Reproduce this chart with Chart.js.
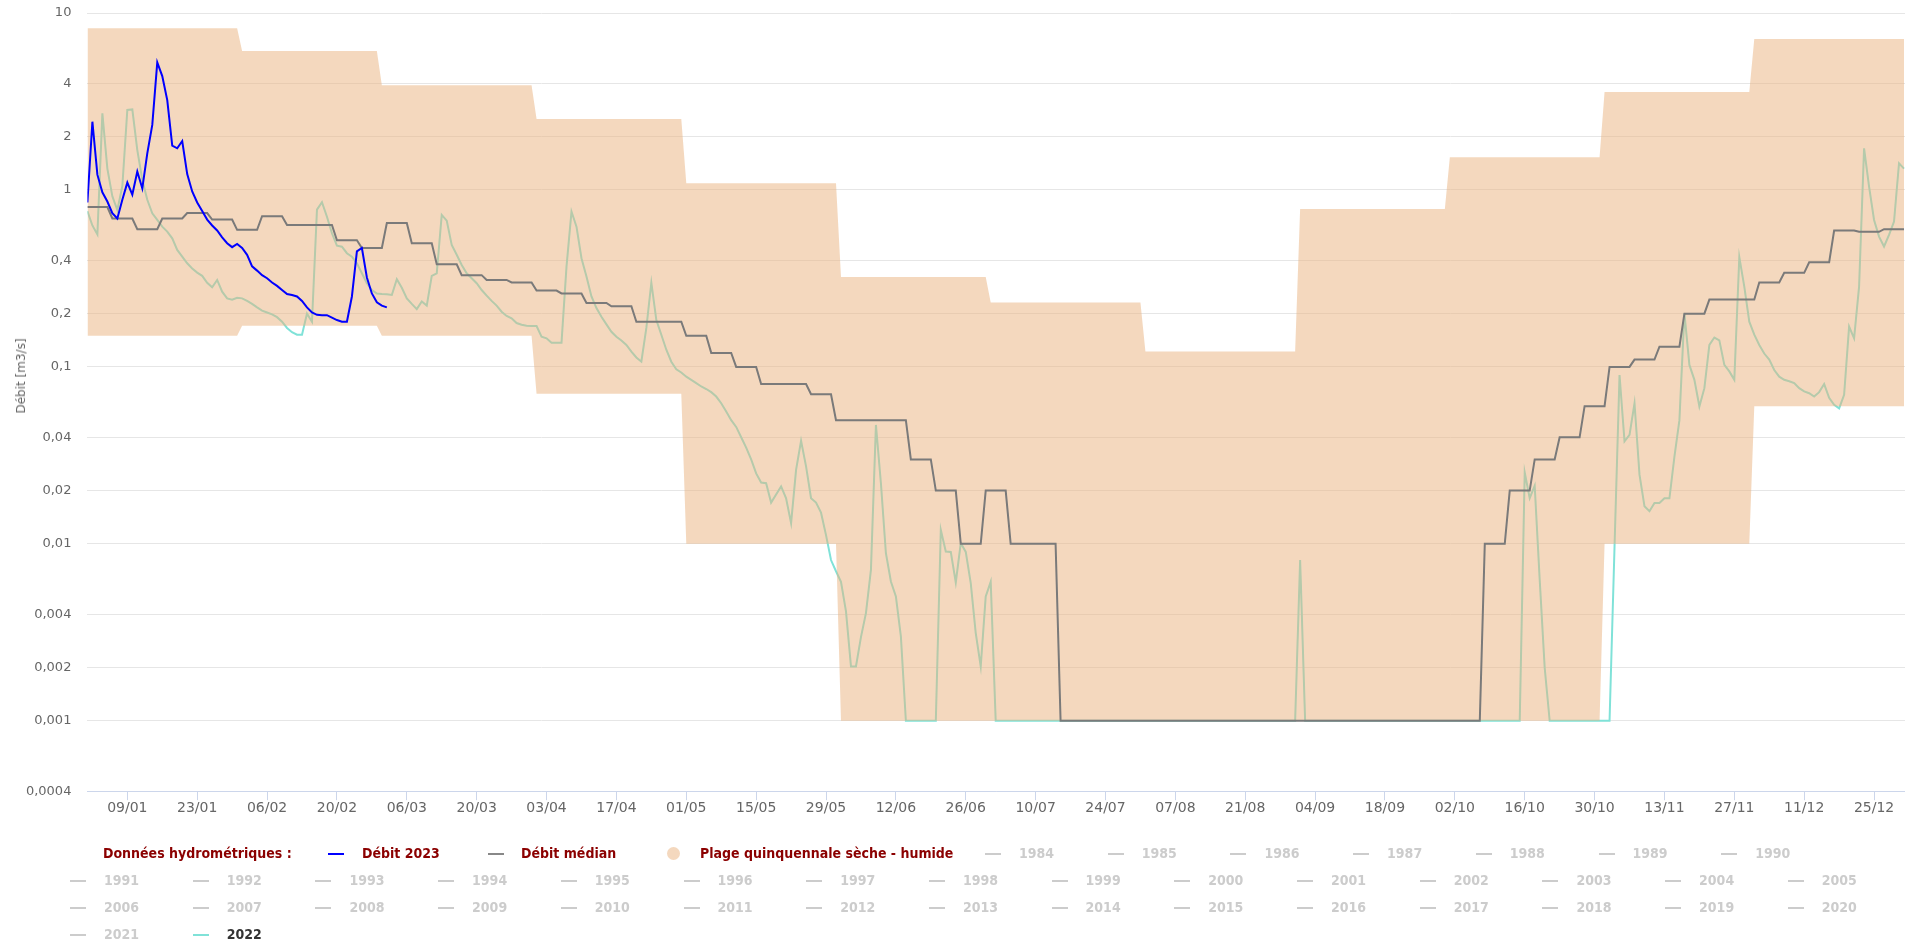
<!DOCTYPE html>
<html lang="fr">
<head>
<meta charset="utf-8">
<title>Débit</title>
<script src="https://cdn.jsdelivr.net/npm/chart.js@4.4.1/dist/chart.umd.min.js"></script>
<style>
  html, body { margin: 0; padding: 0; background: #fff; overflow: hidden; }
  #wrap { position: relative; width: 1905px; height: 943px; }
  #chart { position: absolute; left: 0; top: 0; }
  #ytitle {
    position: absolute; left: 21px; top: 376px;
    transform: translate(-50%, -50%) rotate(-90deg);
    font: 12px "DejaVu Sans", sans-serif; color: #666; white-space: nowrap;
  }
  #legend {
    position: absolute; left: 0; top: 840px; width: 1905px;
    font-family: "DejaVu Sans Condensed", "DejaVu Sans", sans-serif;
    font-stretch: condensed; font-weight: bold; font-size: 14px;
  }
  .row { position: relative; height: 27px; }
  .item { position: absolute; top: 0; height: 27px; line-height: 27px; white-space: nowrap; }
  .dash { position: absolute; left: 0; top: 13px; width: 16px; height: 2px; }
  .dot { position: absolute; left: 0; top: 7px; width: 13px; height: 13px; border-radius: 50%; }
  .txt { position: absolute; top: 0; }
</style>
</head>
<body>
<div id="wrap">
  <canvas id="chart" width="1905" height="943"></canvas>
  <div id="ytitle">Débit [m3/s]</div>
  <div id="legend"></div>
</div>
<script>
// débit 2023, valeurs journalières depuis le 01/01
const flow2023 = [
  0.85, 2.43, 1.22, 0.97, 0.86, 0.74, 0.69, 0.88, 1.10, 0.94,
  1.27, 1.02, 1.61, 2.33, 5.26, 4.40, 3.22, 1.78, 1.72, 1.89,
  1.23, 0.98, 0.85, 0.76, 0.68, 0.63, 0.59, 0.54, 0.50, 0.475,
  0.495, 0.47, 0.43, 0.37, 0.35, 0.33, 0.317, 0.30, 0.287, 0.272,
  0.258, 0.255, 0.25, 0.236, 0.217, 0.203, 0.197, 0.196, 0.196, 0.19,
  0.184, 0.18, 0.18, 0.25, 0.45, 0.47, 0.32, 0.26, 0.232, 0.222,
  0.217
];

// année 2022, valeurs journalières
const flow2022 = [
  0.76, 0.63, 0.56, 2.71, 1.32, 0.92, 0.77, 1.05, 2.83, 2.85,
  1.68, 1.14, 0.88, 0.738, 0.677, 0.62, 0.582, 0.533, 0.458, 0.42,
  0.385, 0.36, 0.341, 0.327, 0.299, 0.282, 0.31, 0.266, 0.244, 0.24,
  0.246, 0.244, 0.236, 0.227, 0.217, 0.208, 0.203, 0.198, 0.191, 0.18,
  0.166, 0.157, 0.152, 0.152, 0.2, 0.18, 0.774, 0.852, 0.706, 0.569,
  0.484, 0.478, 0.439, 0.42, 0.385, 0.338, 0.297, 0.272, 0.26, 0.258,
  0.257, 0.255, 0.313, 0.28, 0.244, 0.227, 0.212, 0.234, 0.222, 0.327,
  0.338, 0.723, 0.671, 0.489, 0.43, 0.377, 0.338, 0.317, 0.297, 0.272,
  0.253, 0.236, 0.222, 0.205, 0.194, 0.188, 0.177, 0.173, 0.171, 0.17,
  0.17, 0.148, 0.145, 0.137, 0.137, 0.137, 0.369, 0.755, 0.62, 0.411,
  0.324, 0.25, 0.215, 0.192, 0.174, 0.158, 0.148, 0.141, 0.133, 0.122,
  0.113, 0.107, 0.166, 0.299, 0.184, 0.152, 0.125, 0.107, 0.097, 0.093,
  0.088, 0.0845, 0.081, 0.0775, 0.075, 0.072, 0.068, 0.0623, 0.056, 0.050,
  0.0458, 0.040, 0.035, 0.030, 0.025, 0.0222, 0.022, 0.0171, 0.019, 0.0211,
  0.0181, 0.0131, 0.0262, 0.0382, 0.0274, 0.0181, 0.0171, 0.015, 0.0112, 0.0081,
  0.0070, 0.0061, 0.00415, 0.00203, 0.00203, 0.00297, 0.00406, 0.00713, 0.047, 0.022,
  0.00885, 0.00613, 0.00504, 0.003, 0.001, 0.001, 0.001, 0.001, 0.001, 0.001,
  0.001, 0.012, 0.00905, 0.009, 0.00605, 0.0101, 0.009, 0.006, 0.00313, 0.00203,
  0.00504, 0.0061, 0.001, 0.001, 0.001, 0.001, 0.001, 0.001, 0.001, 0.001,
  0.001, 0.001, 0.001, 0.001, 0.001, 0.001, 0.001, 0.001, 0.001, 0.001,
  0.001, 0.001, 0.001, 0.001, 0.001, 0.001, 0.001, 0.001, 0.001, 0.001,
  0.001, 0.001, 0.001, 0.001, 0.001, 0.001, 0.001, 0.001, 0.001, 0.001,
  0.001, 0.001, 0.001, 0.001, 0.001, 0.001, 0.001, 0.001, 0.001, 0.001,
  0.001, 0.001, 0.001, 0.001, 0.001, 0.001, 0.001, 0.001, 0.001, 0.001,
  0.001, 0.001, 0.001, 0.0081, 0.001, 0.001, 0.001, 0.001, 0.001, 0.001,
  0.001, 0.001, 0.001, 0.001, 0.001, 0.001, 0.001, 0.001, 0.001, 0.001,
  0.001, 0.001, 0.001, 0.001, 0.001, 0.001, 0.001, 0.001, 0.001, 0.001,
  0.001, 0.001, 0.001, 0.001, 0.001, 0.001, 0.001, 0.001, 0.001, 0.001,
  0.001, 0.001, 0.001, 0.001, 0.001, 0.001, 0.001, 0.001, 0.0253, 0.0181,
  0.0213, 0.0063, 0.002, 0.001, 0.001, 0.001, 0.001, 0.001, 0.001, 0.001,
  0.001, 0.001, 0.001, 0.001, 0.001, 0.001, 0.0097, 0.090, 0.038, 0.0413,
  0.0623, 0.0246, 0.0163, 0.0153, 0.017, 0.017, 0.0181, 0.0181, 0.0311, 0.050,
  0.201, 0.1026, 0.0845, 0.0597, 0.0758, 0.133, 0.1465, 0.1413, 0.1026, 0.0943,
  0.0845, 0.417, 0.284, 0.18, 0.152, 0.133, 0.119, 0.11, 0.096, 0.088,
  0.0845, 0.083, 0.081, 0.0758, 0.0727, 0.071, 0.068, 0.072, 0.080, 0.0668,
  0.061, 0.0583, 0.0696, 0.169, 0.145, 0.284, 1.72, 1.045, 0.677, 0.545,
  0.479, 0.557, 0.662, 1.415, 1.32
];

// débit médian par pentade (5 jours)
const medianPentads = [
  0.80, 0.69, 0.60, 0.69, 0.74, 0.68, 0.595, 0.71, 0.634, 0.634,
  0.52, 0.47, 0.65, 0.50, 0.38, 0.33, 0.31, 0.30, 0.27, 0.26,
  0.23, 0.22, 0.18, 0.18, 0.15, 0.12, 0.10, 0.080, 0.080, 0.070,
  0.050, 0.050, 0.050, 0.030, 0.020, 0.010, 0.020, 0.010, 0.010, 0.001,
  0.001, 0.001, 0.001, 0.001, 0.001, 0.001, 0.001, 0.001, 0.001, 0.001,
  0.001, 0.001, 0.001, 0.001, 0.001, 0.001, 0.010, 0.020, 0.030, 0.040,
  0.060, 0.10, 0.11, 0.13, 0.20, 0.24, 0.24, 0.30, 0.34, 0.39,
  0.59, 0.58, 0.60
];

// plage quinquennale sèche - humide, par mois
const bandHumid = [8.2, 6.1, 3.9, 2.52, 1.09, 0.322, 0.231, 0.122, 0.78, 1.53, 3.58, 7.13];
const bandDry = [0.150, 0.171, 0.150, 0.0706, 0.01, 0.001, 0.001, 0.001, 0.001, 0.001, 0.01, 0.06];
const monthFirstDay = [0, 31, 59, 90, 120, 151, 181, 212, 243, 273, 304, 334];
const monthLastDay = [30, 58, 89, 119, 150, 180, 211, 242, 272, 303, 333, 364];

const xTickDays = [8, 22, 36, 50, 64, 78, 92, 106, 120, 134, 148, 162, 176, 190, 204, 218, 232, 246, 260, 274, 288, 302, 316, 330, 344, 358];
const xTickLabels = ['09/01', '23/01', '06/02', '20/02', '06/03', '20/03', '03/04', '17/04', '01/05', '15/05', '29/05', '12/06', '26/06',
  '10/07', '24/07', '07/08', '21/08', '04/09', '18/09', '02/10', '16/10', '30/10', '13/11', '27/11', '11/12', '25/12'];

const yTickValues = [10, 4, 2, 1, 0.4, 0.2, 0.1, 0.04, 0.02, 0.01, 0.004, 0.002, 0.001, 0.0004];
const yTickLabels = ['10', '4', '2', '1', '0,4', '0,2', '0,1', '0,04', '0,02', '0,01', '0,004', '0,002', '0,001', '0,0004'];

const historicalYears = ['1984', '1985', '1986', '1987', '1988', '1989', '1990', '1991', '1992', '1993',
  '1994', '1995', '1996', '1997', '1998', '1999', '2000', '2001', '2002', '2003', '2004', '2005', '2006',
  '2007', '2008', '2009', '2010', '2011', '2012', '2013', '2014', '2015', '2016', '2017', '2018', '2019',
  '2020', '2021'];
const shownYear = '2022';

const BLUE = '#0000ff';
const MEDIAN = 'rgb(122,122,122)';
const BAND = 'rgba(234,178,126,0.5)';
const CYAN = 'rgb(128,226,216)';

// points
const daily = arr => arr.map((v, i) => ({ x: i, y: v }));
const pentadPts = [];
medianPentads.forEach((v, k) => {
  pentadPts.push({ x: k * 5, y: v }, { x: k * 5 + 4, y: v });
});
const monthPts = vals => {
  const pts = [];
  vals.forEach((v, m) => pts.push({ x: monthFirstDay[m], y: v }, { x: monthLastDay[m], y: v }));
  return pts;
};

Chart.defaults.font.family = '"DejaVu Sans", sans-serif';
Chart.defaults.color = '#666';

new Chart(document.getElementById('chart'), {
  type: 'line',
  data: {
    datasets: [
      { label: 'Débit 2023', data: daily(flow2023), borderColor: BLUE, borderWidth: 2, fill: false },
      { label: 'Débit médian', data: pentadPts, borderColor: MEDIAN, borderWidth: 2, fill: false },
      { label: 'Plage quinquennale sèche - humide', data: monthPts(bandHumid), borderWidth: 0,
        borderColor: 'rgba(0,0,0,0)', backgroundColor: BAND, fill: '+1' },
      { label: 'sèche', data: monthPts(bandDry), borderWidth: 0, borderColor: 'rgba(0,0,0,0)', fill: false },
      { label: shownYear, data: daily(flow2022), borderColor: CYAN, borderWidth: 2, fill: false }
    ]
  },
  options: {
    responsive: false,
    animation: false,
    events: [],
    elements: { point: { radius: 0 }, line: { tension: 0 } },
    layout: { padding: { top: 13, left: 0, right: 0, bottom: 126 } },
    plugins: { legend: { display: false }, tooltip: { enabled: false } },
    scales: {
      x: {
        type: 'linear',
        min: 0,
        max: 364.2,
        afterBuildTicks: s => { s.ticks = xTickDays.map(v => ({ value: v })); },
        ticks: {
          autoSkip: false, maxRotation: 0, padding: 0,
          font: { size: 14 }, color: '#666',
          callback: v => xTickLabels[xTickDays.indexOf(v)]
        },
        grid: { drawOnChartArea: false, drawTicks: true, tickLength: 9, tickColor: '#ccd6eb' },
        border: { color: '#ccd6eb', width: 1 }
      },
      y: {
        type: 'logarithmic',
        min: 0.0004,
        max: 10,
        afterBuildTicks: s => { s.ticks = yTickValues.slice().reverse().map(v => ({ value: v })); },
        afterFit: s => { s.width = 87.4; },
        ticks: {
          padding: 3, font: { size: 13 }, color: '#666',
          callback: v => yTickLabels[yTickValues.indexOf(v)]
        },
        grid: { color: '#e6e6e6', lineWidth: 1, drawTicks: true, tickLength: 13, tickColor: 'rgba(0,0,0,0)' },
        border: { display: false }
      }
    }
  }
});

// légende
const legend = document.getElementById('legend');
function addItem(row, left, text, opts) {
  const it = document.createElement('div');
  it.className = 'item';
  it.style.left = left + 'px';
  if (opts.symbol === 'dash') {
    const d = document.createElement('span');
    d.className = 'dash';
    d.style.background = opts.symColor;
    it.appendChild(d);
  } else if (opts.symbol === 'dot') {
    const d = document.createElement('span');
    d.className = 'dot';
    d.style.background = opts.symColor;
    it.appendChild(d);
  }
  const t = document.createElement('span');
  t.className = 'txt';
  t.style.left = (opts.textOffset || 0) + 'px';
  t.style.color = opts.color;
  t.textContent = text;
  it.appendChild(t);
  row.appendChild(it);
}
const rows = [0, 1, 2, 3].map(() => {
  const r = document.createElement('div');
  r.className = 'row';
  legend.appendChild(r);
  return r;
});
const RED = '#8b0000';
const GREY = '#cccccc';
const step = 122.7;
addItem(rows[0], 103, 'Données hydrométriques :', { color: RED });
addItem(rows[0], 328, 'Débit 2023', { symbol: 'dash', symColor: BLUE, color: RED, textOffset: 34 });
addItem(rows[0], 488, 'Débit médian', { symbol: 'dash', symColor: '#888', color: RED, textOffset: 33 });
addItem(rows[0], 667, 'Plage quinquennale sèche - humide', { symbol: 'dot', symColor: 'rgb(244,216,190)', color: RED, textOffset: 33 });
historicalYears.forEach((y, i) => {
  let row, left;
  if (i < 7) { row = rows[0]; left = 985 + i * step; }
  else { const j = i - 7; row = rows[1 + Math.floor(j / 15)]; left = 70 + (j % 15) * step; }
  addItem(row, left, y, { symbol: 'dash', symColor: GREY, color: GREY, textOffset: 34 });
});
addItem(rows[3], 70 + step, shownYear, { symbol: 'dash', symColor: CYAN, color: '#333', textOffset: 34 });
</script>
</body>
</html>
